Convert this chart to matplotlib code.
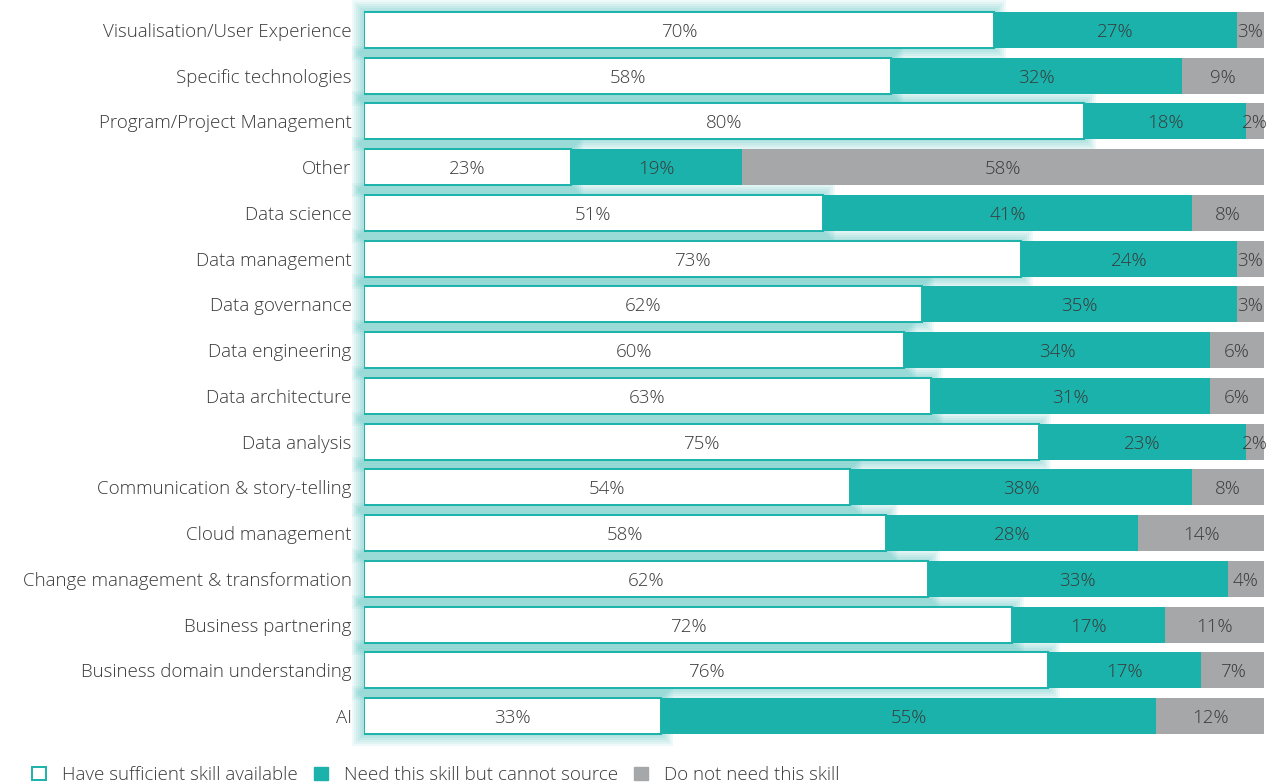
import matplotlib.pyplot as plt
from matplotlib.patches import Patch
import numpy as np

plt.rcParams['font.family'] = ['Open Sans', 'DejaVu Sans']
plt.rcParams['font.weight'] = 'light'

# skills, top to bottom
skills = [
    'Visualisation/User Experience', 'Specific technologies', 'Program/Project Management',
    'Other', 'Data science', 'Data management', 'Data governance', 'Data engineering',
    'Data architecture', 'Data analysis', 'Communication & story-telling',
    'Cloud management', 'Change management & transformation', 'Business partnering',
    'Business domain understanding', 'AI',
]
have_skill = [70, 58, 80, 23, 51, 73, 62, 60, 63, 75, 54, 58, 62, 72, 76, 33]
cannot_source = [27, 32, 18, 19, 41, 24, 35, 34, 31, 23, 38, 28, 33, 17, 17, 55]
not_needed = [3, 9, 2, 58, 8, 3, 3, 6, 6, 2, 8, 14, 4, 11, 7, 12]

TEAL = '#1ab2aa'
GREY = '#a5a7a9'
TXT = '#3a3a3a'

have = np.array(have_skill, float)
need = np.array(cannot_source, float)
nope = np.array(not_needed, float)
total = have + need + nope
# shares of each row, so every bar spans the full width
have_s = have / total * 100
need_s = need / total * 100
nope_s = nope / total * 100

fig = plt.figure(figsize=(12.66, 7.84), dpi=100)
ax = fig.add_axes([364 / 1266, 1 - 739 / 784, 900 / 1266, 732 / 784])

y = np.arange(len(skills))
h = 0.79

# soft teal glow behind the white bars, built from stacked translucent bars
px_x = 100 / 900     # one pixel in x data units
px_y = 16 / 732      # one pixel in y data units
for pad in [12, 10, 8, 6, 4, 2]:
    ax.barh(y, have_s + 2 * pad * px_x, left=-pad * px_x, height=h + 2 * pad * px_y,
            color=TEAL, alpha=0.065, linewidth=0, zorder=1, clip_on=False)

ax.barh(y, have_s, height=h, color='white', edgecolor=TEAL, linewidth=1.4, zorder=2)
ax.barh(y, need_s, left=have_s, height=h, color=TEAL, linewidth=0, zorder=3)
ax.barh(y, nope_s, left=have_s + need_s, height=h, color=GREY, linewidth=0, zorder=3)

for i in range(len(skills)):
    segs = [(0, have_s[i], have_skill[i]),
            (have_s[i], need_s[i], cannot_source[i]),
            (have_s[i] + need_s[i], nope_s[i], not_needed[i])]
    for left, width, val in segs:
        ax.text(left + width / 2, i, f'{val}%', ha='center', va='center_baseline',
                fontsize=13.5, color=TXT, zorder=5)

ax.set_xlim(0, 100)
ax.set_ylim(len(skills) - 0.5, -0.5)
ax.set_yticks(y)
ax.set_yticklabels(skills, fontsize=13.5, color=TXT, va='center_baseline')
ax.tick_params(axis='y', length=0, pad=9)
ax.set_xticks([])
for s in ax.spines.values():
    s.set_visible(False)

handles = [Patch(facecolor='white', edgecolor=TEAL, linewidth=1.4),
           Patch(facecolor=TEAL, edgecolor=TEAL),
           Patch(facecolor=GREY, edgecolor=GREY)]
labels = ['Have sufficient skill available', 'Need this skill but cannot source',
          'Do not need this skill']
leg = fig.legend(handles, labels, loc='lower left', bbox_to_anchor=(15 / 1266, -17 / 784),
                 ncol=3, frameon=False, fontsize=13.5, handlelength=0.75, handleheight=0.75,
                 handletextpad=0.85, columnspacing=0.85, labelcolor=TXT)

fig.savefig('out.png', dpi=100)
